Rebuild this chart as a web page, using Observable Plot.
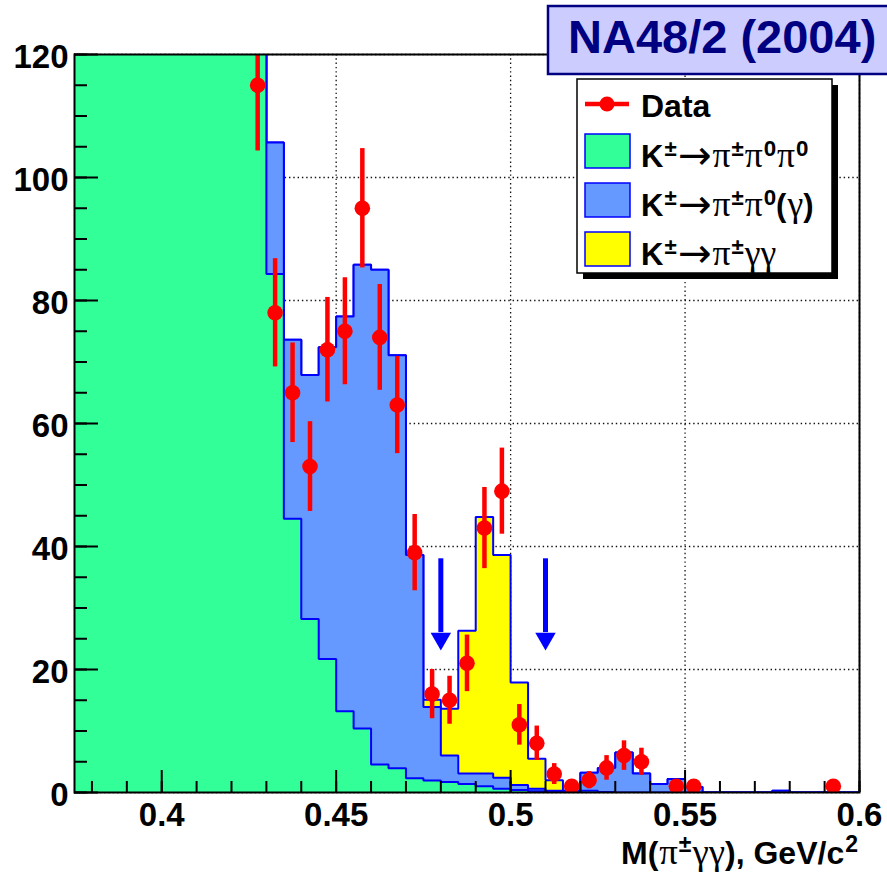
<!DOCTYPE html>
<html><head><meta charset="utf-8">
<script src="https://cdn.jsdelivr.net/npm/d3@7"></script>
<script src="https://cdn.jsdelivr.net/npm/@observablehq/plot@0.6"></script>
<style>
html,body{margin:0;padding:0;background:#fff;overflow:hidden;}
#wrap{position:relative;width:887px;height:872px;overflow:hidden;}
#wrap > svg{position:absolute;left:0;top:0;}
</style></head><body><div id="wrap"></div>
<script>
// ---------------- data ----------------
const binWidth = 0.005;
const binLow = [0.375,0.380,0.385,0.390,0.395,0.400,0.405,0.410,0.415,0.420,
  0.425,0.430,0.435,0.440,0.445,0.450,0.455,0.460,0.465,0.470,
  0.475,0.480,0.485,0.490,0.495,0.500,0.505,0.510,0.515,0.520,
  0.525,0.530,0.535,0.540,0.545,0.550,0.555,0.560,0.565,0.570,
  0.575,0.580,0.585,0.590,0.595];
// K± → π±π0π0 (green)
const kPi2Pi0 = [420,400,380,350,320,290,260,230,200,170,
  140,84.3,44.5,28.2,21.7,13.2,10.4,4.55,3.95,2.3,
  1.95,1.7,1.4,1.0,0.6,0.4,0.2,0.1,0,0.3,
  0.1,0,0,0,0,0,0,0,0,0,
  0,0,0,0,0];
// K± → π±π0(γ) (blue)
const kPiPi0G = [10,10,10,10,10,10,10,10,10,10,
  10,21.4,29.1,39.7,50.7,64.2,75.4,80.45,67.15,36.3,
  11.95,4.3,1.7,2.1,1.8,0.8,0.4,0.2,0.3,2.9,
  3.9,6.5,3.1,1.4,2.2,0.9,0,0,0,0,
  0.3,0,0,0,0];
// K± → π±γγ (yellow)
const kPiGG = [0,0,0,0,0,0,0,0,0,0,
  0,0,0,0,0,0,0,0,0,0,
  1.2,7.6,23.2,41.7,36.2,16.7,4.9,1.7,0,0,
  0,0,0,0,0,0,0,0,0,0,
  0,0,0,0,0];
// Data points
const dataMass = [0.4275,0.4325,0.4375,0.4425,0.4475,0.4525,0.4575,0.4625,0.4675,0.4725,
  0.4775,0.4825,0.4875,0.4925,0.4975,0.5025,0.5075,0.5125,0.5175,0.5225,
  0.5275,0.5325,0.5375,0.5475,0.5525,0.5925];
const dataCounts = [115,78,65,53,72,75,95,74,63,39,
  16,15,21,43,49,11,8,3,1,2,
  4,6,5,1,1,1];
const dataErrors = [10.7,8.8,8.1,7.3,8.5,8.7,9.7,8.6,7.9,6.2,
  4.0,3.9,4.6,6.6,7.0,3.3,2.8,1.7,1.0,1.4,
  2.0,2.4,2.2,1.0,1.0,1.0];
// signal region arrows
const signalEdges = [0.48, 0.51];
const arrowTop = 38, arrowHeadY = 25.0;
// axes
const xMajorTicks = [0.4, 0.45, 0.5, 0.55, 0.6];
const xTickLabels = ["0.4", "0.45", "0.5", "0.55", "0.6"];
const yMajorTicks = [0, 20, 40, 60, 80, 100, 120];

// ---------------- styles ----------------
const C = {green:"#33ff99", blue:"#6699ff", yellow:"#ffff00", line:"#0000ff", red:"#ff0000", navy:"#000080", title:"#ccccff"};
const sans = '"Liberation Sans", Arial, Helvetica, sans-serif';
const serif = '"Liberation Serif", "Times New Roman", serif';

const W = 887, H = 872, mL = 74, mR = 28, mT = 54, mB = 80;
const frameW = W - mL - mR, frameH = H - mT - mB;

// stacked cumulative sums
const cumGreen = kPi2Pi0;
const cumBlue = cumGreen.map((g, i) => g + kPiPi0G[i]);
const cumTotal = cumBlue.map((b, i) => b + kPiGG[i]);
function steps(vals) {
  const pts = [];
  vals.forEach((v, i) => { pts.push({x: binLow[i], y: v}); pts.push({x: binLow[i] + binWidth, y: v}); });
  pts.push({x: binLow[binLow.length - 1] + binWidth, y: 0});
  return pts;
}
const data = dataMass.map((m, i) => ({m, n: dataCounts[i], e: dataErrors[i]}));

const xMinor = d3.range(0.38, 0.6001, 0.01);
const yMinor = d3.range(0, 120.01, 5);

const histLayer = (vals, fill) => [
  Plot.area(steps(vals), {x1: "x", y1: 0, y2: "y", fill, clip: true}),
  Plot.line(steps(vals), {x: "x", y: "y", stroke: C.line, strokeWidth: 2, strokeLinejoin: "miter", clip: true})
];

const chart = Plot.plot({
  width: W, height: H,
  marginLeft: mL, marginRight: mR, marginTop: mT, marginBottom: mB,
  x: {domain: [0.375, 0.6]},
  y: {domain: [0, 120]},
  style: {fontFamily: sans, fontWeight: "bold", fontSize: "33px", color: "#000", background: "transparent"},
  marks: [
    Plot.gridX(xMajorTicks, {stroke: "#111", strokeOpacity: 1, strokeWidth: 1.3, strokeDasharray: "1.4,2.9"}),
    Plot.gridY(yMajorTicks, {stroke: "#111", strokeOpacity: 1, strokeWidth: 1.3, strokeDasharray: "1.4,2.9"}),
    ...histLayer(cumTotal, C.yellow),
    ...histLayer(cumBlue, C.blue),
    ...histLayer(cumGreen, C.green),
    // signal window arrows
    Plot.ruleX(signalEdges, {x: d => d, y1: arrowTop, y2: arrowHeadY + 1, stroke: C.line, strokeWidth: 5}),
    Plot.dot(signalEdges, {x: d => d, y: arrowHeadY, symbol: "triangle", rotate: 180, r: 7.6, fill: C.line, stroke: "none"}),
    // data
    Plot.ruleX(data, {x: "m", y1: d => d.n - d.e, y2: d => d.n + d.e, stroke: C.red, strokeWidth: 4.5, clip: true}),
    Plot.dot(data, {x: "m", y: "n", r: 7.8, fill: C.red, stroke: "none", clip: true}),
    // ticks (inside the frame, ROOT style)
    Plot.tickX(xMinor, {x: d => d, insetTop: frameH - 11, stroke: "#000", strokeWidth: 2}),
    Plot.tickX(xMajorTicks, {x: d => d, insetTop: frameH - 22, stroke: "#000", strokeWidth: 2}),
    Plot.tickY(yMinor, {y: d => d, insetRight: frameW - 13, stroke: "#000", strokeWidth: 2}),
    Plot.tickY(yMajorTicks, {y: d => d, insetRight: frameW - 24, stroke: "#000", strokeWidth: 2}),
    Plot.axisX(xMajorTicks, {tickSize: 0, tickPadding: 10, tickFormat: (d, i) => xTickLabels[i], label: null, fontSize: 33}),
    Plot.axisY(yMajorTicks, {tickSize: 0, tickPadding: 6, label: null, fontSize: 33, dy: 3}),
    Plot.frame({stroke: "#000", strokeWidth: 2})
  ]
});
document.getElementById("wrap").appendChild(chart);

// ---------------- overlay: title box, legend, axis title ----------------
const ov = d3.select("#wrap").append("svg").attr("width", 887).attr("height", 872)
  .style("position", "absolute").style("left", "0").style("top", "0");

function rich(x, y, segs, size, anchor, fill) {
  const t = ov.append("text").attr("x", x).attr("y", y).attr("font-size", size)
    .attr("font-family", sans).attr("font-weight", "bold").attr("fill", fill || "#000")
    .attr("text-anchor", anchor || "start");
  let shift = 0;
  segs.forEach((s, k) => {
    const sp = t.append("tspan").text(s.t);
    let target = 0;
    if (s.sup) target = -0.36 * size;
    if (s.arrow) target = 0.06 * size;
    if (target !== shift) { sp.attr("dy", target - shift); shift = target; }
    if (k > 0 && (s.sup || s.greek || s.arrow)) sp.attr("dx", 1);
    if (s.sup) sp.attr("font-size", size * 0.72);
    if (s.greek) sp.attr("font-family", serif).attr("font-weight", "normal").attr("font-size", size * 1.15);
    if (s.arrow) sp.attr("font-family", '"DejaVu Sans", sans-serif').attr("font-weight", "normal").attr("font-size", size * 1.3);
  });
  return t;
}

// title box
ov.append("rect").attr("x", 548).attr("y", 6).attr("width", 360).attr("height", 68)
  .attr("fill", C.title).attr("stroke", C.navy).attr("stroke-width", 2.5);
ov.append("text").attr("x", 568).attr("y", 53).attr("font-family", sans).attr("font-weight", "bold")
  .attr("font-size", 47).attr("fill", C.navy).text("NA48/2 (2004)");

// legend
const lgX = 577, lgY = 79, lgW = 255, lgH = 194;
ov.append("rect").attr("x", lgX + 6).attr("y", lgY + 6).attr("width", lgW).attr("height", lgH).attr("fill", "#000");
ov.append("rect").attr("x", lgX).attr("y", lgY).attr("width", lgW).attr("height", lgH)
  .attr("fill", "#fff").attr("stroke", "#000").attr("stroke-width", 1.5);
ov.append("line").attr("x1", 585).attr("x2", 629).attr("y1", 104).attr("y2", 104)
  .attr("stroke", C.red).attr("stroke-width", 4.5);
ov.append("circle").attr("cx", 607).attr("cy", 104).attr("r", 7.5).attr("fill", C.red);
rich(641, 117, [{t: "Data"}], 32);

const legendRows = [
  {fill: C.green, y: 134, segs: [{t:"K"},{t:"±",sup:1},{t:"→",arrow:1},{t:"π",greek:1},{t:"±",sup:1},{t:"π",greek:1},{t:"0",sup:1},{t:"π",greek:1},{t:"0",sup:1}]},
  {fill: C.blue, y: 183, segs: [{t:"K"},{t:"±",sup:1},{t:"→",arrow:1},{t:"π",greek:1},{t:"±",sup:1},{t:"π",greek:1},{t:"0",sup:1},{t:"("},{t:"γ",greek:1},{t:")"}]},
  {fill: C.yellow, y: 232, segs: [{t:"K"},{t:"±",sup:1},{t:"→",arrow:1},{t:"π",greek:1},{t:"±",sup:1},{t:"γγ",greek:1}]}
];
legendRows.forEach(r => {
  ov.append("rect").attr("x", 585).attr("y", r.y).attr("width", 45).attr("height", 34)
    .attr("fill", r.fill).attr("stroke", C.line).attr("stroke-width", 1.5);
  rich(641, r.y + 33, r.segs, 31);
});

// x-axis title
rich(858, 864, [{t:"M("},{t:"π",greek:1},{t:"±",sup:1},{t:"γγ",greek:1},{t:"), GeV/c"},{t:"2",sup:1}], 32, "end");
</script></body></html>
